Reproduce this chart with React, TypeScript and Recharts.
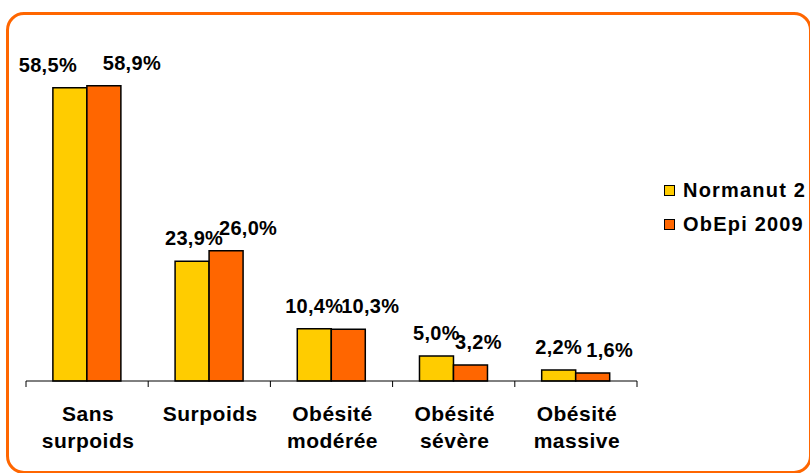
import React from 'react';
import { BarChart, Bar, XAxis, YAxis, LabelList } from 'recharts';

// Corpulence groups and shares (%) for the two surveys
const categories = ['Sans\nsurpoids', 'Surpoids', 'Obésité\nmodérée', 'Obésité\nsévère', 'Obésité\nmassive'];
const normanut = [58.5, 23.9, 10.4, 5.0, 2.2];
const obepi = [58.9, 26.0, 10.3, 3.2, 1.6];

// horizontal nudges of the value labels, so neighbours don't collide
const normanutLabelDx = [-22, 2, 0, 0, 0];
const obepiLabelDx = [28, 22, 22, 8, 17];

const YELLOW = '#FFCC00';
const ORANGE = '#FF6600';
const FONT = '"Liberation Sans", Arial, Helvetica, sans-serif';

const series = [
  { key: 'normanut', label: 'Normanut 2', color: YELLOW },
  { key: 'obepi', label: 'ObEpi 2009', color: ORANGE },
];

const chartData = categories.map((name, i) => ({
  name,
  normanut: normanut[i],
  obepi: obepi[i],
}));

const fmt = (v: number) => `${v.toFixed(1).replace('.', ',')}%`;

const makeLabel = (nudges: number[]) => (props: any) => {
  const { x, y, width, value, index } = props;
  return (
    <text
      x={x + width / 2 + (nudges[index] ?? 0)}
      y={y - 16}
      textAnchor="middle"
      fontFamily={FONT}
      fontWeight="bold"
      fontSize={20}
      letterSpacing={0.3}
      fill="#000"
    >
      {fmt(value)}
    </text>
  );
};

// Category label plus the small boundary ticks under the axis line
const CategoryTick = (props: any) => {
  const { x, y, payload, index } = props;
  const half = payload?.offset ?? 61;
  const lines = String(payload.value).split('\n');
  return (
    <g>
      <line x1={x - half} y1={y} x2={x - half} y2={y + 6} stroke="#000" strokeWidth={1} />
      {index === categories.length - 1 && (
        <line x1={x + half} y1={y} x2={x + half} y2={y + 6} stroke="#000" strokeWidth={1} />
      )}
      <text textAnchor="middle" fontFamily={FONT} fontWeight="bold" fontSize={21} letterSpacing={0.5} fill="#000">
        {lines.map((l, i) => (
          <tspan key={i} x={x + 1} y={y + 40 + i * 27}>
            {l}
          </tspan>
        ))}
      </text>
    </g>
  );
};

const LegendBox = () => (
  <div
    style={{
      position: 'absolute',
      left: 664,
      top: 173,
      fontFamily: FONT,
      fontWeight: 'bold',
      fontSize: 20,
      letterSpacing: 1.2,
      color: '#000',
    }}
  >
    {series.map((item) => (
      <div key={item.key} style={{ display: 'flex', alignItems: 'center', height: 34 }}>
        <span
          style={{
            display: 'inline-block',
            width: 9,
            height: 9,
            background: item.color,
            border: '1px solid #000',
            marginRight: 8,
          }}
        />
        <span>{item.label}</span>
      </div>
    ))}
  </div>
);

export default function App() {
  return (
    <div style={{ position: 'absolute', left: 0, top: 0, width: 810, height: 473, background: '#fff', overflow: 'hidden' }}>
      <div
        style={{
          position: 'absolute',
          left: 6,
          top: 12,
          width: 806,
          height: 462,
          boxSizing: 'border-box',
          border: `3px solid ${ORANGE}`,
          borderRadius: 18,
        }}
      />
      <div style={{ position: 'absolute', left: 0, top: 0 }}>
        <BarChart
          width={810}
          height={473}
          data={chartData}
          margin={{ top: 30, right: 173, left: 26, bottom: 0 }}
          barCategoryGap="22%"
          barGap={0}
        >
          <XAxis
            dataKey="name"
            height={92}
            interval={0}
            tickLine={false}
            tickSize={0}
            tickMargin={0}
            axisLine={{ stroke: '#000', strokeWidth: 1 }}
            tick={<CategoryTick />}
          />
          <YAxis hide domain={[0, 70]} />
          <Bar dataKey="normanut" name="Normanut 2" fill={YELLOW} stroke="#000" strokeWidth={1.5} isAnimationActive={false}>
            <LabelList dataKey="normanut" content={makeLabel(normanutLabelDx)} />
          </Bar>
          <Bar dataKey="obepi" name="ObEpi 2009" fill={ORANGE} stroke="#000" strokeWidth={1.5} isAnimationActive={false}>
            <LabelList dataKey="obepi" content={makeLabel(obepiLabelDx)} />
          </Bar>
        </BarChart>
      </div>
      <LegendBox />
    </div>
  );
}
